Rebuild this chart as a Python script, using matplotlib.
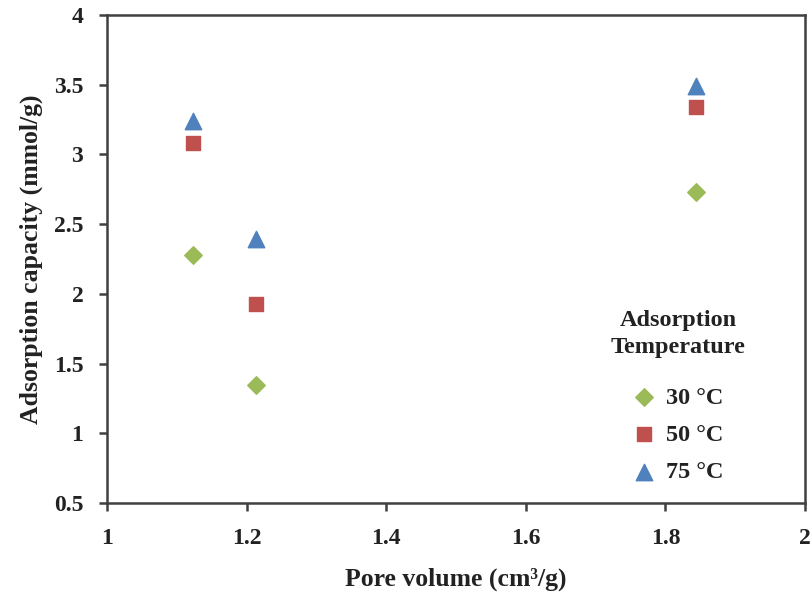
import matplotlib
matplotlib.use("Agg")
import matplotlib.pyplot as plt

plt.rcParams['font.family'] = ['Liberation Serif', 'DejaVu Serif']

pore_volume = [1.123, 1.214, 1.843]
cap_30 = [2.28, 1.35, 2.73]
cap_50 = [3.08, 1.93, 3.34]
cap_75 = [3.24, 2.39, 3.49]
series_labels = ['30 °C', '50 °C', '75 °C']
x_ticks = [1, 1.2, 1.4, 1.6, 1.8, 2]
y_ticks = [0.5, 1, 1.5, 2, 2.5, 3, 3.5, 4]

fig = plt.figure(figsize=(8.1, 5.94), dpi=100)
ax = fig.add_axes([0.132, 0.153, 0.862, 0.822])

ax.scatter(pore_volume, cap_30, marker='D', s=80, color='#9BBB59', label=series_labels[0], zorder=3)
ax.scatter(pore_volume, cap_50, marker='s', s=115, color='#C0504D', label=series_labels[1], zorder=3)
ax.scatter(pore_volume, cap_75, marker='^', s=140, color='#4F81BD', label=series_labels[2], zorder=3)

ax.set_xlim(1, 2)
ax.set_ylim(0.5, 4)
ax.set_xticks(x_ticks)
ax.set_xticklabels(['1', '1.2', '1.4', '1.6', '1.8', '2'])
ax.set_yticks(y_ticks)
ax.set_yticklabels(['0.5', '1', '1.5', '2', '2.5', '3', '3.5', '4'])

for s in ax.spines.values():
    s.set_color('#404040')
    s.set_linewidth(1.8)
ax.tick_params(axis='both', direction='out', length=6, width=1.8, color='#404040',
               labelsize=17, labelcolor='#222222')
ax.tick_params(axis='x', pad=12)
ax.tick_params(axis='y', pad=11)
for lab in ax.get_xticklabels() + ax.get_yticklabels():
    lab.set_fontweight('bold')

ax.set_xlabel('Pore volume (cm\u00b3/g)', fontsize=18.5, fontweight='bold', color='#222222', labelpad=13)
ax.set_ylabel('Adsorption capacity (mmol/g)', fontsize=18.5, fontweight='bold', color='#222222', labelpad=8)

leg = ax.legend(title='Adsorption\nTemperature', frameon=False, loc='upper center',
                bbox_to_anchor=(678 / 810, (594 - 310) / 594), bbox_transform=fig.transFigure,
                prop={'size': 17.5, 'weight': 'bold'},
                title_fontproperties={'size': 17.5, 'weight': 'bold'},
                handlelength=1.0, handletextpad=0.4, labelspacing=0.62,
                borderaxespad=0, borderpad=0)
leg._legend_box.align = 'center'
leg.get_title().set_linespacing(1.35)
leg.get_title().set_multialignment('center')
leg._legend_box.sep = 21
for t in leg.get_texts():
    t.set_color('#222222')
leg.get_title().set_color('#222222')

fig.savefig('out.png', dpi=100)
